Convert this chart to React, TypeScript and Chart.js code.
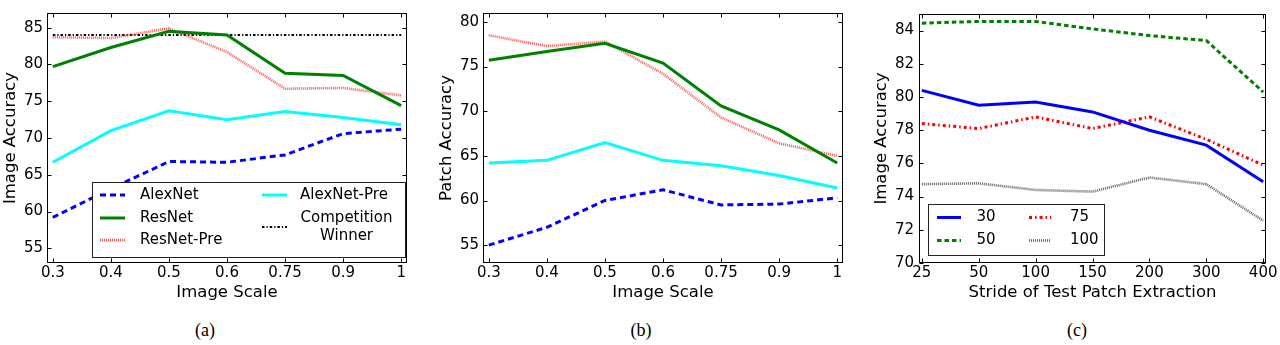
import React, { useEffect, useRef } from "react";
import { Chart, registerables } from "chart.js";

Chart.register(...registerables);

// ---------- data ----------
const scaleLabels = ["0.3", "0.4", "0.5", "0.6", "0.75", "0.9", "1"];
const strideLabels = ["25", "50", "100", "150", "200", "300", "400"];

const imgTicks = [55, 60, 65, 70, 75, 80, 85];
const patchTicks = [55, 60, 65, 70, 75, 80];
const strideTicks = [70, 72, 74, 76, 78, 80, 82, 84];

// (a) Image accuracy vs image scale
const imgAlexNet = [59.2, 63.1, 66.8, 66.7, 67.7, 70.6, 71.2];
const imgResNet = [79.7, 82.3, 84.5, 84.0, 78.8, 78.5, 74.4];
const imgResNetPre = [83.7, 83.6, 84.9, 81.7, 76.7, 76.8, 75.8];
const imgAlexNetPre = [66.7, 71.0, 73.7, 72.5, 73.6, 72.8, 71.8];
const imgCompetitionWinner = [84.0, 84.0, 84.0, 84.0, 84.0, 84.0, 84.0];

// (b) Patch accuracy vs image scale
const patchAlexNet = [55.0, 57.0, 60.0, 61.2, 59.5, 59.6, 60.3];
const patchResNet = [75.7, 76.7, 77.6, 75.4, 70.6, 67.9, 64.2];
const patchResNetPre = [78.5, 77.3, 77.8, 74.2, 69.3, 66.4, 65.0];
const patchAlexNetPre = [64.2, 64.5, 66.5, 64.5, 63.9, 62.8, 61.4];

// (c) Image accuracy vs stride
const stride30 = [80.4, 79.5, 79.7, 79.1, 78.0, 77.1, 74.9];
const stride50 = [84.45, 84.55, 84.55, 84.1, 83.7, 83.4, 80.3];
const stride75 = [78.4, 78.1, 78.8, 78.1, 78.8, 77.45, 75.9];
const stride100 = [74.75, 74.8, 74.4, 74.3, 75.15, 74.75, 72.55];

// ---------- styles ----------
type Style = { color: string; width: number; dash: number[] };
const stAlex: Style = { color: "#0000ff", width: 3, dash: [6, 4] };
const stRes: Style = { color: "#008000", width: 3, dash: [] };
const stResPre: Style = { color: "rgba(255,30,30,0.75)", width: 2.6, dash: [1, 1] };
const stAlexPre: Style = { color: "#00ffff", width: 3, dash: [] };
const stWinner: Style = { color: "#000000", width: 2, dash: [2.5, 2, 1.2, 2] };
const st30: Style = { color: "#0000ff", width: 3, dash: [] };
const st50: Style = { color: "#008000", width: 3, dash: [4.5, 3] };
const st75: Style = { color: "#ff0000", width: 3, dash: [3, 3, 1.5, 3] };
const st100: Style = { color: "rgba(60,60,60,0.8)", width: 2.6, dash: [1, 1] };

const FONT = "'DejaVu Sans', sans-serif";
const H = 310;

type LegendItem = {
  style: Style;
  sx: [number, number];
  sy: number;
  lines: string[];
  tx: number;
  ty: number[];
  align: CanvasTextAlign;
};
type LegendCfg = { box: [number, number, number, number]; items: LegendItem[] };

const decoPlugin = {
  id: "panelDeco",
  afterDatasetsDraw(chart: any, _args: any, opts: any) {
    const { ctx, chartArea, scales } = chart;
    const { left, right, top, bottom } = chartArea;
    const L = Math.round(left) + 0.5;
    const R = Math.round(right) - 0.5;
    const T = Math.round(top) + 0.5;
    const B = Math.round(bottom) - 0.5;
    ctx.save();
    ctx.strokeStyle = "#000";
    ctx.lineWidth = 1;
    ctx.setLineDash([]);
    const tl = 4;
    const seg = (x1: number, y1: number, x2: number, y2: number) => {
      ctx.beginPath();
      ctx.moveTo(x1, y1);
      ctx.lineTo(x2, y2);
      ctx.stroke();
    };
    scales.x.ticks.forEach((t: any) => {
      const px = Math.round(scales.x.getPixelForValue(t.value)) + 0.5;
      seg(px, B, px, B - tl);
      seg(px, T, px, T + tl);
    });
    scales.y.ticks.forEach((t: any) => {
      const py = Math.round(scales.y.getPixelForValue(t.value)) + 0.5;
      seg(L, py, L + tl, py);
      seg(R, py, R - tl, py);
    });
    ctx.strokeRect(L, T, R - L, B - T);

    const lg: LegendCfg | undefined = opts && opts.legend;
    if (lg) {
      const [x0, y0, x1, y1] = lg.box;
      ctx.fillStyle = "#fff";
      ctx.fillRect(x0, y0, x1 - x0, y1 - y0);
      ctx.strokeStyle = "#222";
      ctx.strokeRect(x0 + 0.5, y0 + 0.5, x1 - x0, y1 - y0);
      ctx.font = `15px ${FONT}`;
      ctx.textBaseline = "middle";
      lg.items.forEach((it) => {
        ctx.strokeStyle = it.style.color;
        ctx.lineWidth = it.style.width;
        ctx.setLineDash(it.style.dash);
        ctx.lineCap = "butt";
        ctx.beginPath();
        ctx.moveTo(it.sx[0], it.sy);
        ctx.lineTo(it.sx[1], it.sy);
        ctx.stroke();
        ctx.setLineDash([]);
        ctx.fillStyle = "#000";
        ctx.textAlign = it.align;
        it.lines.forEach((ln, i) => ctx.fillText(ln, it.tx, it.ty[i]));
      });
    }
    ctx.restore();
  },
};

type Series = { data: number[]; style: Style; label: string };

type PanelProps = {
  left: number;
  width: number;
  area: { left: number; right: number; top: number; bottom: number };
  xPad: number;
  xLabels: string[];
  yMin: number;
  yMax: number;
  yTicks: number[];
  xTitle: string;
  yTitle: string;
  yTitleCenter: number;
  yTickPad: number;
  series: Series[];
  legend?: LegendCfg;
};

function Panel(p: PanelProps) {
  const ref = useRef<HTMLCanvasElement>(null);
  useEffect(() => {
    const canvas = ref.current!;
    const chart = new Chart(canvas, {
      type: "line",
      data: {
        datasets: p.series.map((s) => ({
          label: s.label,
          data: s.data.map((y, i) => ({ x: i, y })),
          borderColor: s.style.color,
          borderWidth: s.style.width,
          borderDash: s.style.dash,
          borderCapStyle: "butt",
          pointRadius: 0,
          pointHoverRadius: 0,
          tension: 0,
          fill: false,
          clip: 0,
        })),
      },
      options: {
        responsive: false,
        animation: false,
        devicePixelRatio: 1,
        events: [],
        layout: {
          padding: { left: 0, top: p.area.top, right: p.width - p.area.right, bottom: 0 },
        },
        plugins: {
          legend: { display: false },
          tooltip: { enabled: false },
          panelDeco: { legend: p.legend },
        } as any,
        scales: {
          x: {
            type: "linear",
            min: -p.xPad,
            max: p.xLabels.length - 1 + p.xPad,
            afterBuildTicks: (s: any) => {
              s.ticks = p.xLabels.map((_, i) => ({ value: i }));
            },
            afterFit: (s: any) => {
              s.height = H - p.area.bottom;
              s.paddingLeft = 0;
              s.paddingRight = 0;
            },
            ticks: {
              callback: (v: any) => p.xLabels[Math.round(v)],
              font: { family: FONT, size: 15, lineHeight: 1.2 },
              color: "#000",
              padding: 1,
              maxRotation: 0,
              minRotation: 0,
              autoSkip: false,
            },
            grid: { display: false, drawTicks: false },
            border: { display: false },
            title: {
              display: true,
              text: p.xTitle,
              font: { family: FONT, size: 16.5, lineHeight: 1.2 },
              color: "#000",
              padding: { top: 0, bottom: 7.4 },
            },
          },
          y: {
            type: "linear",
            min: p.yMin,
            max: p.yMax,
            afterBuildTicks: (s: any) => {
              s.ticks = p.yTicks.map((v) => ({ value: v }));
            },
            afterFit: (s: any) => {
              s.width = p.area.left;
            },
            ticks: {
              callback: (v: any) => String(v),
              font: { family: FONT, size: 15, lineHeight: 1.2 },
              color: "#000",
              padding: p.yTickPad,
            },
            grid: { display: false, drawTicks: false },
            border: { display: false },
            title: {
              display: true,
              text: p.yTitle,
              font: { family: FONT, size: 16.5, lineHeight: 1.2 },
              color: "#000",
              padding: { top: p.yTitleCenter - 9.9, bottom: 0 },
            },
          },
        },
      },
      plugins: [decoPlugin as any],
    });
    return () => chart.destroy();
  }, []);
  return (
    <canvas
      ref={ref}
      width={p.width}
      height={H}
      style={{ position: "absolute", left: p.left, top: 0, width: p.width, height: H }}
    />
  );
}

const legendScale: LegendCfg = {
  box: [92, 182, 405, 257],
  items: [
    { style: stAlex, sx: [100, 125], sy: 195, lines: ["AlexNet"], tx: 140, ty: [195], align: "left" },
    { style: stRes, sx: [100, 125], sy: 218, lines: ["ResNet"], tx: 140, ty: [218], align: "left" },
    { style: stResPre, sx: [100, 125], sy: 240, lines: ["ResNet-Pre"], tx: 140, ty: [240], align: "left" },
    { style: stAlexPre, sx: [262, 287], sy: 195, lines: ["AlexNet-Pre"], tx: 300, ty: [195], align: "left" },
    {
      style: stWinner,
      sx: [262, 287],
      sy: 227,
      lines: ["Competition", "Winner"],
      tx: 346.5,
      ty: [218, 236],
      align: "center",
    },
  ],
};

const legendStride: LegendCfg = {
  box: [68, 204, 244, 255],
  items: [
    { style: st30, sx: [77, 101], sy: 217.5, lines: ["30"], tx: 116.5, ty: [217.5], align: "left" },
    { style: st50, sx: [77, 101], sy: 240.5, lines: ["50"], tx: 116.5, ty: [240.5], align: "left" },
    { style: st75, sx: [169, 191], sy: 217.5, lines: ["75"], tx: 210, ty: [217.5], align: "left" },
    { style: st100, sx: [169, 191], sy: 240.5, lines: ["100"], tx: 210, ty: [240.5], align: "left" },
  ],
};

const captionStyle: React.CSSProperties = {
  position: "absolute",
  top: 319,
  width: 60,
  textAlign: "center",
  fontFamily: "'Liberation Serif', serif",
  fontSize: 18,
  lineHeight: "22px",
  color: "#000",
};

export default function App() {
  useEffect(() => {
    document.body.style.margin = "0";
  }, []);
  return (
    <div
      style={{
        position: "fixed",
        left: 0,
        top: 0,
        width: 1280,
        height: 345,
        background: "#fff",
        overflow: "hidden",
      }}
    >
      <Panel
        left={0}
        width={425}
        area={{ left: 47, right: 407, top: 9, bottom: 263 }}
        xPad={0.1}
        xLabels={scaleLabels}
        yMin={53}
        yMax={87}
        yTicks={imgTicks}
        xTitle="Image Scale"
        yTitle="Image Accuracy"
        yTitleCenter={10.7}
        yTickPad={4}
        series={[
          { label: "AlexNet", data: imgAlexNet, style: stAlex },
          { label: "AlexNet-Pre", data: imgAlexNetPre, style: stAlexPre },
          { label: "ResNet", data: imgResNet, style: stRes },
          { label: "ResNet-Pre", data: imgResNetPre, style: stResPre },
          { label: "Competition Winner", data: imgCompetitionWinner, style: stWinner },
        ]}
        legend={legendScale}
      />
      <Panel
        left={430}
        width={425}
        area={{ left: 53, right: 413, top: 9, bottom: 263 }}
        xPad={0.1}
        xLabels={scaleLabels}
        yMin={53}
        yMax={81}
        yTicks={patchTicks}
        xTitle="Image Scale"
        yTitle="Patch Accuracy"
        yTitleCenter={16.7}
        yTickPad={4}
        series={[
          { label: "AlexNet", data: patchAlexNet, style: stAlex },
          { label: "AlexNet-Pre", data: patchAlexNetPre, style: stAlexPre },
          { label: "ResNet", data: patchResNet, style: stRes },
          { label: "ResNet-Pre", data: patchResNetPre, style: stResPre },
        ]}
      />
      <Panel
        left={860}
        width={420}
        area={{ left: 59, right: 406, top: 9, bottom: 263 }}
        xPad={0.05}
        xLabels={strideLabels}
        yMin={70}
        yMax={85}
        yTicks={strideTicks}
        xTitle="Stride of Test Patch Extraction"
        yTitle="Image Accuracy"
        yTitleCenter={21.7}
        yTickPad={5}
        series={[
          { label: "30", data: stride30, style: st30 },
          { label: "50", data: stride50, style: st50 },
          { label: "75", data: stride75, style: st75 },
          { label: "100", data: stride100, style: st100 },
        ]}
        legend={legendStride}
      />
      <div style={{ ...captionStyle, left: 205 - 30 }}>(a)</div>
      <div style={{ ...captionStyle, left: 641 - 30 }}>(b)</div>
      <div style={{ ...captionStyle, left: 1077 - 30 }}>(c)</div>
    </div>
  );
}
